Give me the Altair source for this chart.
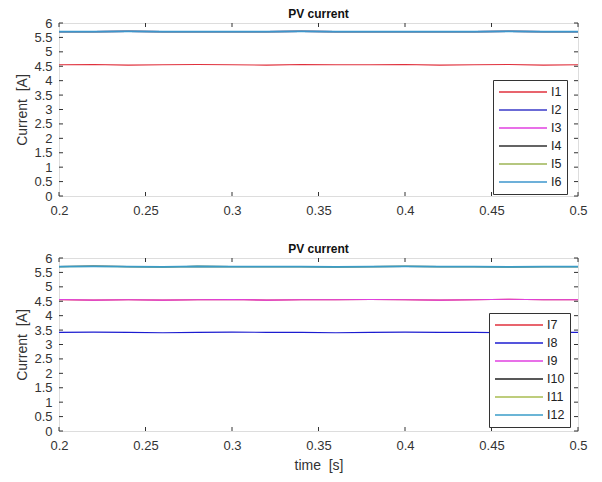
import altair as alt
import pandas as pd

time = [0.20, 0.22, 0.24, 0.26, 0.28, 0.30, 0.32, 0.34, 0.36, 0.38, 0.40, 0.42, 0.44, 0.46, 0.48, 0.50]

top_names = ["I1", "I2", "I3", "I4", "I5", "I6"]
top_values = [
    [4.55, 4.56, 4.54, 4.55, 4.56, 4.55, 4.54, 4.56, 4.55, 4.55, 4.56, 4.54, 4.55, 4.56, 4.54, 4.55],
    [5.70, 5.70, 5.71, 5.70, 5.70, 5.70, 5.70, 5.71, 5.70, 5.70, 5.70, 5.70, 5.70, 5.71, 5.70, 5.70],
    [5.70, 5.70, 5.71, 5.70, 5.70, 5.70, 5.70, 5.71, 5.70, 5.70, 5.70, 5.70, 5.70, 5.71, 5.70, 5.70],
    [5.70, 5.70, 5.71, 5.70, 5.70, 5.70, 5.70, 5.71, 5.70, 5.70, 5.70, 5.70, 5.70, 5.71, 5.70, 5.70],
    [5.70, 5.70, 5.71, 5.70, 5.70, 5.70, 5.70, 5.71, 5.70, 5.70, 5.70, 5.70, 5.70, 5.71, 5.70, 5.70],
    [5.70, 5.70, 5.71, 5.70, 5.70, 5.70, 5.70, 5.71, 5.70, 5.70, 5.70, 5.70, 5.70, 5.71, 5.70, 5.70],
]
top_colors = ["#e0303c", "#3a3ac8", "#e040e0", "#303030", "#9cb454", "#3c96cc"]

bot_names = ["I7", "I8", "I9", "I10", "I11", "I12"]
bot_values = [
    [4.55, 4.54, 4.55, 4.54, 4.55, 4.56, 4.54, 4.55, 4.55, 4.56, 4.55, 4.54, 4.55, 4.57, 4.55, 4.55],
    [3.42, 3.43, 3.42, 3.41, 3.42, 3.43, 3.42, 3.42, 3.41, 3.42, 3.43, 3.42, 3.42, 3.41, 3.42, 3.42],
    [4.56, 4.54, 4.55, 4.54, 4.55, 4.56, 4.54, 4.55, 4.55, 4.56, 4.55, 4.54, 4.55, 4.57, 4.55, 4.55],
    [5.70, 5.72, 5.70, 5.69, 5.71, 5.70, 5.70, 5.70, 5.69, 5.70, 5.71, 5.70, 5.70, 5.69, 5.70, 5.70],
    [5.70, 5.71, 5.70, 5.69, 5.71, 5.70, 5.70, 5.70, 5.69, 5.70, 5.71, 5.70, 5.70, 5.69, 5.70, 5.70],
    [5.70, 5.71, 5.70, 5.69, 5.71, 5.70, 5.70, 5.70, 5.69, 5.70, 5.71, 5.70, 5.70, 5.69, 5.70, 5.70],
]
bot_colors = ["#e0303c", "#1c1cd0", "#e040e0", "#202020", "#a8bc50", "#3a9cc8"]

x_ticks = [0.2, 0.25, 0.3, 0.35, 0.4, 0.45, 0.5]
y_ticks = [0, 0.5, 1, 1.5, 2, 2.5, 3, 3.5, 4, 4.5, 5, 5.5, 6]

X_TITLE = "time\u00a0\u00a0[s]"
Y_TITLE = "Current\u00a0\u00a0[A]"

W = 519
FONT = "Liberation Sans"
TICK = 4
AXC = "#333333"


def make_df(names, values):
    rows = []
    for n, vals in zip(names, values):
        for t, v in zip(time, vals):
            rows.append({"time": t, "current": v, "series": n})
    return pd.DataFrame(rows)


def panel(names, values, colors, show_xtitle, lx, ly, h):
    df = make_df(names, values)
    xs = alt.Scale(domain=[0.2, 0.5], nice=False)
    ys = alt.Scale(domain=[0, 6], nice=False)
    xtitle = X_TITLE if show_xtitle else None
    xaxis = alt.Axis(values=x_ticks, format="~g", title=xtitle,
                     grid=False, domain=False, tickSize=0, labelPadding=8,
                     labelFlush=False,
                     labelFont=FONT, labelFontSize=13, labelColor=AXC,
                     titleFont=FONT, titleFontSize=14, titleColor=AXC,
                     titleFontWeight="normal", titlePadding=6)
    yaxis = alt.Axis(values=y_ticks, format="~g", title=Y_TITLE,
                     grid=False, domain=False, tickSize=0, labelPadding=7,
                     labelFlush=False,
                     labelFont=FONT, labelFontSize=13, labelColor=AXC,
                     titleFont=FONT, titleFontSize=14, titleColor=AXC,
                     titleFontWeight="normal", titlePadding=4)
    last = names[-1]
    lines = alt.Chart(df).mark_line().encode(
        x=alt.X("time:Q", scale=xs, axis=xaxis, title=xtitle),
        y=alt.Y("current:Q", scale=ys, axis=yaxis, title=Y_TITLE),
        color=alt.Color("series:N",
                        scale=alt.Scale(domain=names, range=colors),
                        legend=alt.Legend(title=None, orient="none", legendX=lx, legendY=ly,
                                          fillColor="white", strokeColor="#333333",
                                          padding=5, symbolType="M-1,0H7", symbolSize=144,
                                          symbolStrokeWidth=1.3, symbolFillColor="transparent",
                                          labelFontSize=12.5, labelFont=FONT, labelColor="#222222",
                                          labelOffset=39, rowPadding=4)),
        strokeWidth=alt.when(alt.datum.series == last).then(alt.value(1.8)).otherwise(alt.value(1.1)),
    )
    xt = pd.DataFrame({"t": x_ticks})
    yt = pd.DataFrame({"v": y_ticks})
    xe = alt.X("t:Q", scale=xs, axis=xaxis, title=xtitle)
    ye = alt.Y("v:Q", scale=ys, axis=yaxis, title=Y_TITLE)
    tb = alt.Chart(xt).mark_rule(color=AXC).encode(
        x=xe, y=alt.value(h), y2=alt.value(h - TICK))
    tt = alt.Chart(xt).mark_rule(color=AXC).encode(
        x=xe, y=alt.value(0), y2=alt.value(TICK))
    tl = alt.Chart(yt).mark_rule(color=AXC).encode(
        y=ye, x=alt.value(0), x2=alt.value(TICK))
    tr = alt.Chart(yt).mark_rule(color=AXC).encode(
        y=ye, x=alt.value(W), x2=alt.value(W - TICK))
    return alt.layer(lines, tb, tt, tl, tr).properties(
        width=W, height=h,
        title=alt.TitleParams("PV current", fontSize=12, font=FONT, fontWeight="bold",
                              color="#111111", offset=-4),
    )


top = panel(top_names, top_values, top_colors, False, 434, 57, 173)
bot = panel(bot_names, bot_values, bot_colors, True, 430, 55, 173)

chart = alt.vconcat(top, bot, spacing=24).resolve_scale(color="independent").properties(
    padding={"left": 7, "top": -1, "right": 5, "bottom": 0}
).configure_view(stroke="#404040", strokeWidth=1).configure(background="white")

chart.save("out.html", embed_options={"renderer": "svg", "actions": False})
